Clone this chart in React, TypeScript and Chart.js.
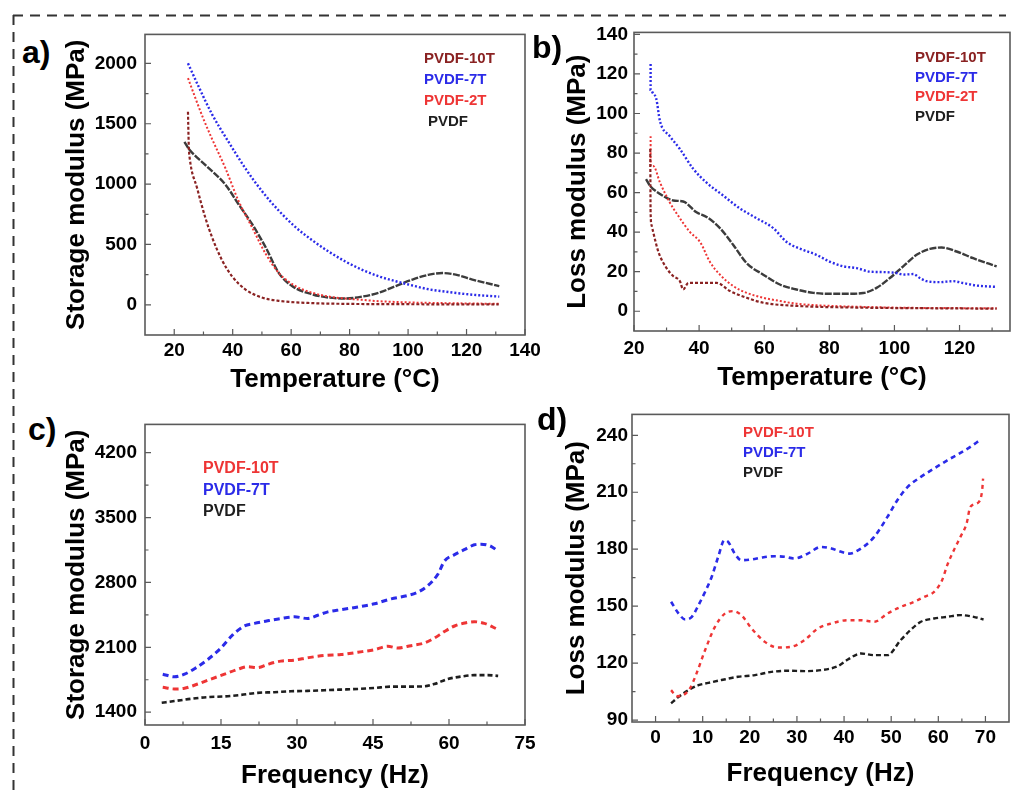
import React, { useEffect, useRef } from "react";
import { Chart, registerables } from "chart.js";
Chart.register(...registerables);

const FONT = '"Liberation Sans", Arial, Helvetica, sans-serif';

// ---------- Panel a: storage modulus vs temperature ----------
const aT_10T = [24.7, 24.8, 25.0, 25.3, 27.8, 30.6, 32.9, 36.3, 39.8, 44.3, 50, 55.8, 67.2, 78.6, 100, 131];
const aM_10T = [1600, 1485, 1300, 1213, 969, 725, 562, 372, 236, 128, 60, 33, 14, 8, 5, 3];
const aT_7T = [24.7, 28.3, 32.9, 38.6, 44.3, 50, 55.8, 61.5, 67.2, 72.9, 78.6, 84.3, 90, 95.8, 101.5, 107.2, 112.9, 118.6, 124.3, 131.2];
const aM_7T = [2000, 1810, 1580, 1349, 1132, 942, 779, 643, 535, 440, 358, 290, 236, 195, 160, 128, 109, 92, 79, 68];
const aT_2T = [24.7, 27.2, 30, 32.9, 37.5, 42, 46.6, 51.2, 55.8, 61.5, 67.2, 72.9, 78.6, 84.3, 90, 101.5, 112.9, 131.2];
const aM_2T = [1878, 1715, 1539, 1376, 1132, 860, 643, 426, 263, 155, 100, 68, 52, 41, 30, 19, 14, 8];
const aT_PVDF = [23.5, 24.9, 30.6, 37.5, 42, 46.6, 51.2, 55.8, 60.3, 67.2, 72.9, 78.6, 84.3, 90, 95.8, 101.5, 107.2, 111.8, 116.3, 122, 131.2];
const aM_PVDF = [1349, 1295, 1159, 996, 833, 670, 480, 263, 155, 87, 60, 52, 68, 100, 155, 209, 250, 263, 250, 209, 155];
const aXTicks = [20, 40, 60, 80, 100, 120, 140];
const aYTicks = [0, 500, 1000, 1500, 2000];

// ---------- Panel b: loss modulus vs temperature ----------
const bT_10T = [25, 25.1, 25.4, 25.9, 27.5, 30, 32.1, 34.1, 35.1, 36.7, 39.2, 45.4, 49.5, 54.6, 59.7, 69.9, 90.4, 110.9, 131.4];
const bL_10T = [82, 50, 43.5, 40, 30, 21.8, 17.7, 15.2, 11, 14.3, 14.3, 14.3, 10.2, 6.8, 4.3, 2.7, 1.8, 1.5, 1.3];
const bT_7T = [25.1, 25.1, 25.9, 26.8, 28, 31, 34.1, 38.2, 42.3, 47.4, 52.5, 57.7, 62.8, 66.9, 72, 76.1, 80.2, 84.3, 88.4, 92.5, 96.6, 100.7, 102.7, 105.8, 107.8, 109.9, 114, 118, 121, 125.2, 131.4];
const bL_7T = [125, 112, 110, 107.7, 96, 88.5, 82, 72, 65, 58.5, 52, 47, 42, 35, 31, 28.5, 25, 22.7, 21.8, 20, 19.8, 19.3, 18.5, 18.8, 16.8, 15.2, 14.7, 15.2, 14.3, 13, 12.3];
const bT_2T = [25.1, 25.1, 25.9, 28, 31, 34.1, 37.2, 40.3, 43.3, 46.4, 50.5, 54.6, 59.7, 64.8, 69.9, 80.2, 90.4, 100.7, 131.4];
const bL_2T = [88.5, 73.5, 73.5, 65, 55, 47, 40, 35, 25, 18.5, 12.7, 9.3, 6.8, 5.2, 3.8, 2.7, 2.2, 1.8, 1.5];
const bT_PVDF = [23.7, 24.9, 28, 32.1, 35.1, 39.2, 42.3, 46.4, 50.5, 54.6, 59.7, 64.8, 69.9, 75.1, 80.2, 85.3, 90.4, 94.5, 98.6, 102.7, 106.8, 110.9, 114.5, 119.1, 124.2, 131.4];
const bL_PVDF = [66.8, 63.5, 59.3, 56, 55.5, 50, 47.7, 42, 33.5, 24.3, 18.5, 13.5, 11, 9.3, 8.8, 8.8, 9.2, 11.8, 16.8, 22.7, 28.5, 31.5, 32.2, 30.2, 26.8, 22.7];
const bXTicks = [20, 40, 60, 80, 100, 120];
const bYTicks = [0, 20, 40, 60, 80, 100, 120, 140];

// ---------- Panel c: storage modulus vs frequency ----------
const cF_10T = [3.5, 5.8, 7.8, 10.4, 13, 15.7, 18.3, 20.3, 22.2, 24.2, 26.8, 29.5, 32.1, 35.4, 38.7, 42, 45.3, 47.9, 49.9, 52.5, 55.1, 57.1, 59.1, 61.1, 63.4, 65, 67, 69.6];
const cM_10T = [1669, 1651, 1658, 1704, 1757, 1810, 1863, 1891, 1881, 1916, 1951, 1962, 1987, 2012, 2022, 2047, 2075, 2111, 2093, 2118, 2146, 2199, 2270, 2330, 2365, 2376, 2358, 2294];
const cF_7T = [3.5, 5.8, 7.8, 10.1, 12.4, 15, 17.3, 19.6, 21.6, 24.2, 26.8, 29.5, 32.1, 34.1, 36.1, 38.7, 42, 45.3, 48.6, 51.8, 53.8, 55.8, 57.8, 59.1, 61.1, 63, 65, 66.3, 68.3, 69.7];
const cM_7T = [1810, 1782, 1810, 1881, 1969, 2093, 2234, 2330, 2358, 2386, 2411, 2429, 2411, 2446, 2482, 2506, 2535, 2570, 2623, 2658, 2694, 2764, 2888, 3030, 3100, 3153, 3206, 3213, 3189, 3136];
const cF_PVDF = [3.3, 5.8, 9.1, 12.4, 15.7, 19, 22.2, 25.5, 28.8, 32.1, 35.4, 38.7, 42, 45.3, 48.6, 51.8, 55.1, 57.1, 59.7, 62.4, 65, 67.6, 69.7];
const cM_PVDF = [1502, 1520, 1545, 1563, 1570, 1587, 1609, 1616, 1626, 1630, 1637, 1644, 1651, 1662, 1676, 1676, 1679, 1704, 1757, 1785, 1800, 1800, 1792];
const cXTicks = [0, 15, 30, 45, 60, 75];
const cYTicks = [1400, 2100, 2800, 3500, 4200];

// ---------- Panel d: loss modulus vs frequency ----------
const dF_10T = [3.3, 4.5, 5.9, 7.3, 8.7, 10.5, 12.6, 14.7, 16.5, 18.2, 20.4, 23.2, 26, 28.8, 31.6, 34.4, 37.3, 40.8, 43.6, 46.4, 49.2, 52, 54.9, 57, 59.1, 60.8, 61.9, 63.3, 64.7, 66, 66.8, 68.6, 69.3, 69.5];
const dL_10T = [105.8, 102.6, 103.2, 106.7, 114.6, 126.8, 139.1, 146.1, 147.4, 145.3, 138.2, 131.2, 128.2, 128.6, 132.1, 138.2, 140.9, 142.6, 142.6, 141.8, 146.1, 149.6, 152.3, 154.9, 157.5, 163.7, 171.6, 179.5, 186.5, 193.5, 202.3, 204.9, 211, 217.2];
const dF_7T = [3.3, 4.9, 6.3, 7.7, 9.1, 10.5, 11.9, 13.3, 14.6, 15.4, 16.8, 18.2, 20.4, 22.5, 25.3, 27.4, 29.5, 32.3, 35.1, 37.3, 39.4, 41.1, 43.6, 46.4, 49.2, 51.3, 53.5, 56.3, 59.1, 61.9, 64.7, 66.8, 68.8];
const dL_7T = [152.3, 146.1, 143, 144.4, 150.5, 157.5, 165.4, 176, 184.7, 183.9, 177.7, 174.2, 174.6, 175.6, 176.3, 176, 175.1, 177.7, 181.2, 180.4, 178.6, 177.7, 180.4, 186.5, 197, 205.8, 212.8, 218.1, 222.5, 226.8, 230.7, 233.9, 237.4];
const dF_PVDF = [3.3, 4.9, 7, 9.1, 11.2, 14, 17.5, 21.1, 24.6, 28.1, 31.6, 35.1, 38.7, 40.8, 43.6, 46.4, 49.2, 52, 54.1, 56.3, 59.1, 61.9, 64.7, 67.5, 69.6];
const dL_PVDF = [98.8, 102.3, 105.8, 108.4, 109.6, 111.1, 112.8, 113.7, 115.4, 116, 115.8, 116.3, 118.4, 121.9, 125.1, 124.2, 124.2, 132.1, 137.4, 141.8, 143.5, 144.4, 145.3, 144.4, 143];
const dXTicks = [0, 10, 20, 30, 40, 50, 60, 70];
const dYTicks = [90, 120, 150, 180, 210, 240];

const DARKRED = "#8a2222";
const BLUE = "#2b2be8";
const RED = "#ee3535";
const GRAY = "#3c3c3c";
const BLACK = "#1e1e1e";

const zip = (xs: number[], ys: number[]) => xs.map((x, i) => ({ x, y: ys[i] }));
const between = (ticks: number[]) => ticks.slice(0, -1).map((t, i) => (t + ticks[i + 1]) / 2);

type Series = { label: string; color: string; xs: number[]; ys: number[]; dash: number[]; width: number };
type LegendItem = { text: string; color: string; x: number; y: number };
type PanelCfg = {
  left: number; top: number; width: number; height: number;
  padTop: number; padRight: number; yAxisWidth: number; xAxisHeight: number;
  xMin: number; xMax: number; yMin: number; yMax: number;
  xTicks: number[]; yTicks: number[]; xMinor: number[]; yMinor: number[];
  xTitle: string; yTitle: string; xPad: number; yPad: number;
  series: Series[]; legend: LegendItem[]; legendSize: number;
};

const framePlugin = {
  id: "frame",
  afterDatasetsDraw(chart: any, _args: any, opts: any) {
    const { ctx, chartArea, scales } = chart;
    const { left, top, right, bottom } = chartArea;
    const x = scales.x, y = scales.y;
    ctx.save();
    ctx.strokeStyle = "#5a5a5a";
    ctx.lineWidth = 1.6;
    ctx.strokeRect(left, top, right - left, bottom - top);
    ctx.lineWidth = 1.2;
    ctx.beginPath();
    (opts.xMajor || []).forEach((v: number) => { const p = x.getPixelForValue(v); ctx.moveTo(p, bottom); ctx.lineTo(p, bottom - 6); });
    (opts.xMinor || []).forEach((v: number) => { const p = x.getPixelForValue(v); ctx.moveTo(p, bottom); ctx.lineTo(p, bottom - 3.5); });
    (opts.yMajor || []).forEach((v: number) => { const p = y.getPixelForValue(v); ctx.moveTo(left, p); ctx.lineTo(left + 6, p); });
    (opts.yMinor || []).forEach((v: number) => { const p = y.getPixelForValue(v); ctx.moveTo(left, p); ctx.lineTo(left + 3.5, p); });
    ctx.stroke();
    ctx.restore();
  },
};

const legendPlugin = {
  id: "textLegend",
  afterDraw(chart: any, _args: any, opts: any) {
    const ctx = chart.ctx;
    ctx.save();
    ctx.font = `bold ${opts.size}px ${FONT}`;
    ctx.textAlign = "left";
    ctx.textBaseline = "middle";
    (opts.items || []).forEach((it: LegendItem) => {
      ctx.fillStyle = it.color;
      ctx.fillText(it.text, it.x - opts.offX, it.y - opts.offY);
    });
    ctx.restore();
  },
};

function PanelChart({ cfg }: { cfg: PanelCfg }) {
  const ref = useRef<HTMLCanvasElement>(null);
  useEffect(() => {
    if (!ref.current) return;
    const chart = new Chart(ref.current, {
      type: "line",
      data: {
        datasets: cfg.series.map((s) => ({
          label: s.label,
          data: zip(s.xs, s.ys),
          borderColor: s.color,
          backgroundColor: s.color,
          borderWidth: s.width,
          borderDash: s.dash,
          pointRadius: 0,
          cubicInterpolationMode: "monotone" as const,
          fill: false,
        })),
      },
      plugins: [framePlugin, legendPlugin],
      options: {
        animation: false,
        responsive: false,
        devicePixelRatio: 1,
        layout: { padding: { top: cfg.padTop, right: cfg.padRight, left: 0, bottom: 0 } },
        plugins: {
          legend: { display: false },
          tooltip: { enabled: false },
          frame: { xMajor: cfg.xTicks, xMinor: cfg.xMinor, yMajor: cfg.yTicks, yMinor: cfg.yMinor },
          textLegend: { items: cfg.legend, size: cfg.legendSize, offX: cfg.left, offY: cfg.top },
        } as any,
        scales: {
          x: {
            type: "linear",
            min: cfg.xMin,
            max: cfg.xMax,
            grid: { display: false, drawTicks: false },
            border: { display: false },
            afterBuildTicks: (s: any) => { s.ticks = cfg.xTicks.map((v) => ({ value: v })); },
            afterFit: (s: any) => { s.height = cfg.xAxisHeight; },
            ticks: {
              autoSkip: false, maxRotation: 0, padding: cfg.xPad, color: "#000",
              font: { family: FONT, size: 19, weight: "bold" },
              callback: (v: any) => String(v),
            },
            title: { display: true, text: cfg.xTitle, color: "#000", font: { family: FONT, size: 26, weight: "bold" }, padding: { top: 4, bottom: 4 } },
          },
          y: {
            type: "linear",
            min: cfg.yMin,
            max: cfg.yMax,
            grid: { display: false, drawTicks: false },
            border: { display: false },
            afterBuildTicks: (s: any) => { s.ticks = cfg.yTicks.map((v) => ({ value: v })); },
            afterFit: (s: any) => { s.width = cfg.yAxisWidth; },
            ticks: {
              autoSkip: false, padding: cfg.yPad, color: "#000",
              font: { family: FONT, size: 19, weight: "bold" },
              callback: (v: any) => String(v),
            },
            title: { display: true, text: cfg.yTitle, color: "#000", font: { family: FONT, size: 26, weight: "bold" }, padding: { top: 4, bottom: 4 } },
          },
        },
      } as any,
    });
    return () => chart.destroy();
  }, [cfg]);
  return (
    <canvas
      ref={ref}
      width={cfg.width}
      height={cfg.height}
      style={{ position: "absolute", left: cfg.left, top: cfg.top, width: cfg.width, height: cfg.height }}
    />
  );
}

const panelA: PanelCfg = {
  left: 57, top: 15, width: 493, height: 384, padTop: 14, padRight: 25, yAxisWidth: 88, xAxisHeight: 64,
  xMin: 10, xMax: 140, yMin: -250, yMax: 2240,
  xTicks: aXTicks, yTicks: aYTicks, xMinor: between(aXTicks), yMinor: between(aYTicks),
  xTitle: "Temperature (°C)", yTitle: "Storage modulus (MPa)", xPad: 4, yPad: 8,
  series: [
    { label: "PVDF-10T", color: DARKRED, xs: aT_10T, ys: aM_10T, dash: [3, 2], width: 2.2 },
    { label: "PVDF-7T", color: BLUE, xs: aT_7T, ys: aM_7T, dash: [2, 2], width: 2.4 },
    { label: "PVDF-2T", color: RED, xs: aT_2T, ys: aM_2T, dash: [2, 2], width: 2 },
    { label: "PVDF", color: GRAY, xs: aT_PVDF, ys: aM_PVDF, dash: [7, 1.5], width: 2.4 },
  ],
  legend: [
    { text: "PVDF-10T", color: DARKRED, x: 424, y: 59 },
    { text: "PVDF-7T", color: BLUE, x: 424, y: 80 },
    { text: "PVDF-2T", color: RED, x: 424, y: 101 },
    { text: "PVDF", color: BLACK, x: 428, y: 122 },
  ],
  legendSize: 15,
};

const panelB: PanelCfg = {
  left: 558, top: 15, width: 454, height: 382, padTop: 14, padRight: 2, yAxisWidth: 76, xAxisHeight: 66,
  xMin: 20, xMax: 135.5, yMin: -10, yMax: 141,
  xTicks: bXTicks, yTicks: bYTicks, xMinor: between(bXTicks).concat([130]), yMinor: between(bYTicks),
  xTitle: "Temperature (°C)", yTitle: "Loss modulus (MPa)", xPad: 6, yPad: 6,
  series: [
    { label: "PVDF-10T", color: DARKRED, xs: bT_10T, ys: bL_10T, dash: [3, 2], width: 2.2 },
    { label: "PVDF-7T", color: BLUE, xs: bT_7T, ys: bL_7T, dash: [2, 2], width: 2.4 },
    { label: "PVDF-2T", color: RED, xs: bT_2T, ys: bL_2T, dash: [2, 2], width: 2 },
    { label: "PVDF", color: GRAY, xs: bT_PVDF, ys: bL_PVDF, dash: [7, 1.5], width: 2.4 },
  ],
  legend: [
    { text: "PVDF-10T", color: DARKRED, x: 915, y: 58 },
    { text: "PVDF-7T", color: BLUE, x: 915, y: 77.5 },
    { text: "PVDF-2T", color: RED, x: 915, y: 97 },
    { text: "PVDF", color: BLACK, x: 915, y: 116.5 },
  ],
  legendSize: 15,
};

const panelC: PanelCfg = {
  left: 57, top: 405, width: 493, height: 390, padTop: 14, padRight: 25, yAxisWidth: 88, xAxisHeight: 70,
  xMin: 0, xMax: 75, yMin: 1262, yMax: 4505,
  xTicks: cXTicks, yTicks: cYTicks, xMinor: between(cXTicks), yMinor: between(cYTicks),
  xTitle: "Frequency (Hz)", yTitle: "Storage modulus (MPa)", xPad: 7, yPad: 8,
  series: [
    { label: "PVDF-10T", color: RED, xs: cF_10T, ys: cM_10T, dash: [6, 4], width: 3 },
    { label: "PVDF-7T", color: BLUE, xs: cF_7T, ys: cM_7T, dash: [6, 4], width: 3 },
    { label: "PVDF", color: BLACK, xs: cF_PVDF, ys: cM_PVDF, dash: [5, 3], width: 2.6 },
  ],
  legend: [
    { text: "PVDF-10T", color: RED, x: 203, y: 469 },
    { text: "PVDF-7T", color: BLUE, x: 203, y: 491 },
    { text: "PVDF", color: BLACK, x: 203, y: 512 },
  ],
  legendSize: 16,
};

const panelD: PanelCfg = {
  left: 557, top: 399, width: 455, height: 394, padTop: 14, padRight: 3, yAxisWidth: 75, xAxisHeight: 71,
  xMin: -5, xMax: 75, yMin: 89, yMax: 251,
  xTicks: dXTicks, yTicks: dYTicks, xMinor: between(dXTicks), yMinor: between(dYTicks),
  xTitle: "Frequency (Hz)", yTitle: "Loss modulus (MPa)", xPad: 4, yPad: 4,
  series: [
    { label: "PVDF-10T", color: RED, xs: dF_10T, ys: dL_10T, dash: [4, 4], width: 2.4 },
    { label: "PVDF-7T", color: BLUE, xs: dF_7T, ys: dL_7T, dash: [5, 4], width: 2.6 },
    { label: "PVDF", color: BLACK, xs: dF_PVDF, ys: dL_PVDF, dash: [5, 3], width: 2.4 },
  ],
  legend: [
    { text: "PVDF-10T", color: RED, x: 743, y: 433 },
    { text: "PVDF-7T", color: BLUE, x: 743, y: 453 },
    { text: "PVDF", color: BLACK, x: 743, y: 473 },
  ],
  legendSize: 15,
};

const labelStyle = (left: number, top: number): React.CSSProperties => ({
  position: "absolute", left, top, fontFamily: FONT, fontWeight: "bold", fontSize: 32, lineHeight: 1, color: "#000",
});

export default function App() {
  return (
    <div style={{ position: "absolute", left: 0, top: 0, width: 1012, height: 796, background: "#fff", overflow: "hidden" }}>
      <svg width={1012} height={796} style={{ position: "absolute", left: 0, top: 0 }}>
        <line x1={13} y1={15.5} x2={1006} y2={15.5} stroke="#333" strokeWidth={2} strokeDasharray="10 7" />
        <line x1={13.5} y1={15} x2={13.5} y2={790} stroke="#333" strokeWidth={2} strokeDasharray="10 7" />
      </svg>
      <PanelChart cfg={panelA} />
      <PanelChart cfg={panelB} />
      <PanelChart cfg={panelC} />
      <PanelChart cfg={panelD} />
      <div style={labelStyle(22, 36)}>a)</div>
      <div style={labelStyle(532, 31)}>b)</div>
      <div style={labelStyle(28, 413)}>c)</div>
      <div style={labelStyle(537, 403)}>d)</div>
    </div>
  );
}
